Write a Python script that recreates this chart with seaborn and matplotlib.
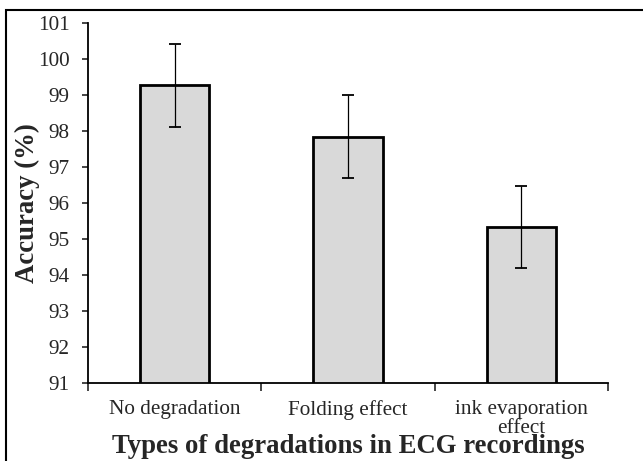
import matplotlib
matplotlib.use("Agg")
import matplotlib.pyplot as plt
import matplotlib.patches as mpatches
import numpy as np
import pandas as pd
import seaborn as sns

categories = ["No degradation", "Folding effect", "ink evaporation\neffect"]
accuracy = [99.26, 97.84, 95.33]
error = [1.15, 1.15, 1.15]
y_ticks = [91, 92, 93, 94, 95, 96, 97, 98, 99, 100, 101]

sns.set_style("ticks")
plt.rcParams["font.family"] = ["Liberation Serif", "DejaVu Serif"]

df = pd.DataFrame({"type": categories, "acc": accuracy})

fig = plt.figure(figsize=(6.43, 4.61), dpi=100)
ax = fig.add_axes([88 / 643, 78 / 461, 520 / 643, 360.3 / 461])

sns.barplot(
    data=df, x="type", y="acc", ax=ax,
    color="#d9d9d9", saturation=1, width=0.4,
    edgecolor="black", linewidth=2, errorbar=None,
)
xpos = np.arange(len(categories))
ax.errorbar(xpos, accuracy, yerr=error, fmt="none", ecolor="black",
            elinewidth=0.9, capsize=4.3, capthick=1.3)

ax.set_ylim(91, 101)
ax.set_yticks(y_ticks)
ax.set_xlim(-0.5, len(categories) - 0.5)

# category boundaries get the tick marks, labels sit in between
ax.set_xticks(np.arange(-0.5, len(categories)), labels=[""] * (len(categories) + 1))
ax.set_xticks(xpos, labels=categories, minor=True)
ax.tick_params(axis="x", which="major", length=6, width=1.2, direction="out")
ax.tick_params(axis="x", which="minor", length=0, pad=12, labelsize=15.3)
ax.tick_params(axis="y", length=4.5, width=1.2, pad=8.6, labelsize=15.3)
for lbl in ax.get_xticklabels(minor=True):
    lbl.set_linespacing(1.05)

for spine in ["top", "right"]:
    ax.spines[spine].set_visible(False)
for spine in ["left", "bottom"]:
    ax.spines[spine].set_linewidth(1.3)
    ax.spines[spine].set_color("black")

ax.set_xlabel("Types of degradations in ECG recordings", fontsize=19.3,
              fontweight="bold", va="baseline")
ax.xaxis.set_label_coords(0.5, -0.194)
ax.set_ylabel("Accuracy (%)", fontsize=19.3, fontweight="bold", va="center")
ax.yaxis.set_label_coords(-0.117, 0.5)

fig.add_artist(mpatches.Rectangle(
    (6 / 643, -0.2), 1.2, (451 / 461) + 0.2, transform=fig.transFigure,
    fill=False, edgecolor="black", linewidth=1.5,
))

fig.savefig("out.png", dpi=100)
